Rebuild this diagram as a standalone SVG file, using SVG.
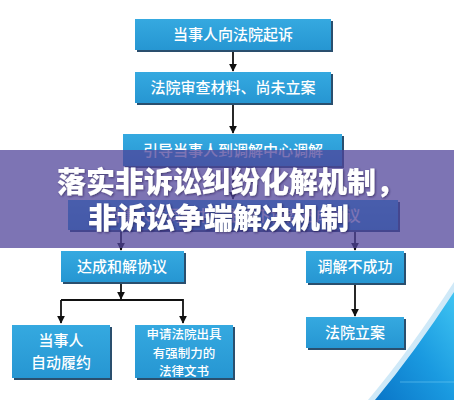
<svg xmlns="http://www.w3.org/2000/svg" width="454" height="400" viewBox="0 0 454 400">
<defs>
<style>
.box{fill:url(#bg);}
.sh{fill:#2a4f6e;}
.t{font-family:"Noto Sans CJK SC","Noto Sans",sans-serif;font-size:15px;fill:#ffffff;text-anchor:middle;font-weight:500;}
.s{font-size:12.5px;}
.c{stroke:#111111;stroke-width:1.8;fill:none;}
.bt{font-family:"Noto Sans CJK SC","Noto Sans",sans-serif;font-size:29px;font-weight:900;fill:#ffffff;}
</style>
<linearGradient id="bg" x1="0" y1="0" x2="0" y2="1">
<stop offset="0" stop-color="#35a9e0"/>
<stop offset="1" stop-color="#2696d2"/>
</linearGradient>
<linearGradient id="sw" x1="0" y1="1" x2="1" y2="0">
<stop offset="0" stop-color="#0a76c8"/>
<stop offset="0.5" stop-color="#1a9ae0"/>
<stop offset="1" stop-color="#3fc4f2"/>
</linearGradient>
<marker id="ah" viewBox="0 0 10 10" refX="9" refY="5" markerWidth="8" markerHeight="8" markerUnits="userSpaceOnUse" orient="auto">
<path d="M0,0 L10,5 L0,10 Z" fill="#111111"/>
</marker>
<filter id="ts" x="-10%" y="-30%" width="120%" height="160%">
<feDropShadow dx="1" dy="1" stdDeviation="1" flood-color="#1a1440" flood-opacity="0.6"/>
</filter>
</defs>
<rect width="454" height="400" fill="#ffffff"/>
<path d="M 368 400 Q 410 350 454 282 L 454 400 Z" fill="#cfe9f8"/>
<path d="M 375 400 Q 415 352 454 292 L 454 400 Z" fill="url(#sw)"/>
<path d="M 400 382 L 454 382" stroke="#7fd2f6" stroke-width="1" opacity="0.5"/>

<g id="connectors">
<line class="c" x1="233" y1="51" x2="233" y2="71" marker-end="url(#ah)"/>
<line class="c" x1="233" y1="104" x2="233" y2="133" marker-end="url(#ah)"/>
<line class="c" x1="233" y1="168" x2="233" y2="199" marker-end="url(#ah)"/>
<line class="c" x1="121" y1="232" x2="121" y2="250" marker-end="url(#ah)"/>
<line class="c" x1="355" y1="232" x2="355" y2="250" marker-end="url(#ah)"/>
<line class="c" x1="121" y1="284" x2="121" y2="299" marker-end="url(#ah)"/>
<polyline class="c" points="61,300 183,300 183,323" marker-end="url(#ah)"/>
<line class="c" x1="61" y1="300" x2="61" y2="323" marker-end="url(#ah)"/>
<line class="c" x1="355" y1="284" x2="355" y2="316" marker-end="url(#ah)"/>
</g>

<g id="n1"><rect class="sh" x="137" y="21" width="196" height="31"/><rect class="box" x="135" y="19" width="196" height="31"/><text class="t" x="233" y="40">当事人向法院起诉</text></g>
<g id="n2"><rect class="sh" x="137" y="74" width="196" height="31"/><rect class="box" x="135" y="72" width="196" height="31"/><text class="t" x="233" y="93">法院审查材料、尚未立案</text></g>
<g id="n3"><rect class="sh" x="125" y="136" width="219" height="32"/><rect class="box" x="123" y="134" width="219" height="32"/><text class="t" x="233" y="156">引导当事人到调解中心调解</text></g>
<g id="n4"><rect class="sh" x="70" y="202" width="330" height="30"/><rect class="box" x="68" y="200" width="330" height="30"/><text class="t" x="233" y="221">当事人在调解中心主持下协商达成协议</text></g>
<g id="n5"><rect class="sh" x="63" y="253" width="123" height="31"/><rect class="box" x="61" y="251" width="123" height="31"/><text class="t" x="122" y="272">达成和解协议</text></g>
<g id="n6"><rect class="sh" x="308" y="253" width="98" height="32"/><rect class="box" x="306" y="251" width="98" height="32"/><text class="t" x="355" y="272">调解不成功</text></g>
<g id="n7"><rect class="sh" x="14" y="327" width="98" height="53"/><rect class="box" x="12" y="325" width="98" height="53"/><text class="t" x="61" y="346">当事人</text><text class="t" x="61" y="368">自动履约</text></g>
<g id="n8"><rect class="sh" x="137" y="327" width="98" height="53"/><rect class="box" x="135" y="325" width="98" height="53"/><text class="t s" x="184" y="339">申请法院出具</text><text class="t s" x="184" y="357.5">有强制力的</text><text class="t s" x="184" y="376">法律文书</text></g>
<g id="n9"><rect class="sh" x="308" y="319" width="98" height="31"/><rect class="box" x="306" y="317" width="98" height="31"/><text class="t" x="355" y="338">法院立案</text></g>

<g id="banner">
<rect x="0" y="150" width="454" height="98" fill="#4f439a" opacity="0.74"/>
<g filter="url(#ts)">
<text class="bt" x="57" y="193">落实非诉讼纠纷化解机制，</text>
<text class="bt" x="88" y="229">非诉讼争端解决机制</text>
</g>
</g>
</svg>
